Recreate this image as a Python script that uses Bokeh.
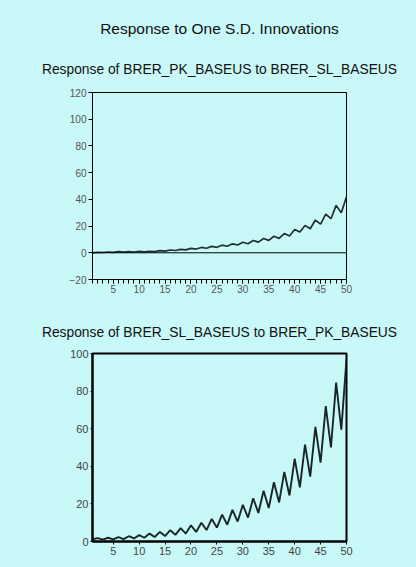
from bokeh.plotting import figure
from bokeh.layouts import column
from bokeh.models import Range1d, FixedTicker, Title, Span
from bokeh.embed import file_html
from bokeh.resources import INLINE

# ---- data ----
periods = list(range(1, 51))
resp_pk_to_sl = [0.0, 0.4, 0.2, 0.6, 0.3, 0.8, 0.5, 0.9, 0.6, 1.0,
                 0.7, 1.1, 0.9, 1.6, 1.3, 2.1, 1.7, 2.6, 2.2, 3.3,
                 2.8, 4.0, 3.4, 4.8, 4.1, 5.7, 4.9, 6.7, 5.8, 7.9,
                 6.8, 9.2, 8.0, 10.7, 9.3, 12.4, 10.8, 14.4, 12.6, 17.5,
                 15.5, 20.5, 18.0, 24.5, 21.5, 29.0, 25.5, 35.5, 30.0, 42.0]
resp_sl_to_pk = [1.2, 1.8, 1.0, 2.0, 1.1, 2.3, 1.3, 2.8, 1.6, 3.4,
                 2.0, 4.2, 2.4, 5.1, 2.9, 6.0, 3.5, 7.1, 4.2, 8.6,
                 5.1, 10.0, 6.1, 12.0, 7.4, 14.3, 8.9, 16.8, 10.6, 19.5,
                 12.7, 23.0, 15.2, 27.0, 17.8, 31.5, 20.8, 37.0, 24.5, 44.0,
                 28.8, 51.5, 34.5, 61.0, 42.0, 72.0, 50.0, 84.5, 59.5, 97.0]
x_major_ticks = [5, 10, 15, 20, 25, 30, 35, 40, 45, 50]
y1_ticks = [-20, 0, 20, 40, 60, 80, 100, 120]
y2_ticks = [0, 20, 40, 60, 80, 100]

main_title = "Response to One S.D. Innovations"
title1 = "Response of BRER_PK_BASEUS to BRER_SL_BASEUS"
title2 = "Response of BRER_SL_BASEUS to BRER_PK_BASEUS"

BG = "#c8f8f8"
FONT = "Liberation Sans"


def style(p, lw, lab_size, lab_color):
    p.background_fill_color = BG
    p.border_fill_color = BG
    p.outline_line_color = "black"
    p.outline_line_width = lw
    p.xgrid.visible = False
    p.ygrid.visible = False
    for ax in (p.xaxis[0], p.yaxis[0]):
        ax.axis_line_color = "black"
        ax.axis_line_width = lw
        ax.major_label_text_font = FONT
        ax.major_label_text_font_size = lab_size
        ax.major_label_text_color = lab_color
        ax.major_tick_in = 0
        ax.minor_tick_in = 0
        ax.major_tick_line_color = "black"
        ax.minor_tick_line_color = "black"


# ---- figure 1 ----
p1 = figure(width=416, height=300, output_backend="svg", toolbar_location=None,
            x_range=Range1d(1, 50), y_range=Range1d(-20, 120),
            min_border_left=86, min_border_right=70, min_border_top=92,
            min_border_bottom=21)
style(p1, 1, "10px", "#555555")
p1.xaxis.ticker = FixedTicker(ticks=x_major_ticks, minor_ticks=periods)
p1.xaxis.major_tick_out = 4
p1.xaxis.minor_tick_out = 4
p1.xaxis.major_label_standoff = 1
p1.yaxis.ticker = FixedTicker(ticks=y1_ticks, minor_ticks=[])
p1.yaxis.major_tick_out = 4
p1.yaxis.major_label_standoff = 2
p1.add_layout(Span(location=0, dimension="width", line_color="black", line_width=1))
p1.line(periods, resp_pk_to_sl, line_color="#203030", line_width=1.7)
p1.add_layout(Title(text=title1, align="center", text_font=FONT,
                    text_font_size="13.8px", text_font_style="normal",
                    text_color="#111111", standoff=32), "above")
p1.add_layout(Title(text=main_title, align="center", text_font=FONT,
                    text_font_size="15.5px", text_font_style="normal",
                    text_color="#111111", standoff=13), "above")

# ---- figure 2 ----
p2 = figure(width=416, height=267, output_backend="svg", toolbar_location=None,
            x_range=Range1d(1, 50), y_range=Range1d(0, 100),
            min_border_left=92, min_border_right=65, min_border_top=53,
            min_border_bottom=26)
style(p2, 2, "11px", "#444444")
p2.xaxis.ticker = FixedTicker(ticks=x_major_ticks, minor_ticks=[])
p2.xaxis.major_tick_out = 3
p2.xaxis.major_label_standoff = 2
p2.yaxis.ticker = FixedTicker(ticks=y2_ticks, minor_ticks=[])
p2.yaxis.major_tick_out = 2
p2.yaxis.major_label_standoff = 2
p2.line(periods, resp_sl_to_pk, line_color="#1a2626", line_width=1.9)
p2.add_layout(Title(text=title2, align="center", text_font=FONT,
                    text_font_size="13.8px", text_font_style="normal",
                    text_color="#111111", standoff=27), "above")

layout = column(p1, p2, spacing=0, styles={"background-color": BG})
open("out.html", "w").write(file_html(layout, INLINE))
